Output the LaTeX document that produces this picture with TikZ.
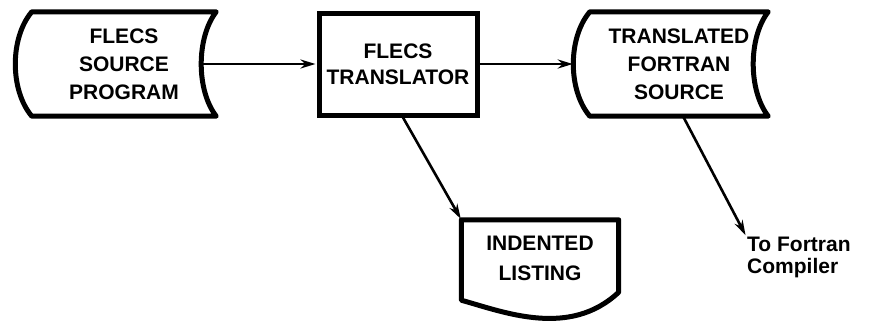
\documentclass[tikz,border=0pt]{standalone}
\usepackage{fontspec}
\setmainfont{Liberation Sans}
\usetikzlibrary{arrows.meta, positioning}
\tikzstyle{storage} = [minimum width=184pt, 
minimum height=104pt, 
inner sep=0pt, 
align=center, 
font=\fontsize{21}{28}\selectfont\bfseries]
\tikzstyle{process} = [rectangle, 
minimum width=158pt, 
minimum height=102pt, 
inner sep=0pt, 
align=center, 
draw=black, 
line width=5pt, 
font=\fontsize{21}{26}\selectfont\bfseries]
\tikzstyle{doc} = [minimum width=157pt, 
minimum height=76pt, 
inner sep=0pt, 
align=center, 
font=\fontsize{21}{30}\selectfont\bfseries]
\tikzstyle{note} = [anchor=north west, 
inner sep=1pt, 
align=left, 
font=\fontsize{21}{22}\selectfont\bfseries]
\tikzstyle{outline} = [line width=5pt, line join=round]
\tikzstyle{arrow} = [line width=2.6pt, ->, >={Stealth[length=15pt,width=9pt]}, shorten >=1pt]

\begin{document}
\begin{tikzpicture}[x=1pt, y=-1pt]
		\useasboundingbox (0,0) rectangle (875,322);
		\node (src) [storage] at (124,64) {FLECS\\ SOURCE\\ PROGRAM};
		\node (trans) [process, right of=src, node distance=274pt] {FLECS\\ TRANSLATOR};
		\node (tgt) [storage, right of=trans, node distance=281pt, minimum width=178pt] {TRANSLATED\\ FORTRAN\\ SOURCE};
		\node (lst) [doc, right of=trans, node distance=142pt, yshift=-194pt] {INDENTED\\ LISTING};
		\node (cmp) [note] at (746,236) {To Fortran\\ Compiler};
	
		% outlines of the stored data symbols
		\foreach \n in {src,tgt}
			\draw [outline] (\n.north east) -- (\n.north west)
				.. controls ([xshift=-22pt,yshift=-26pt]\n.north west) and ([xshift=-22pt,yshift=26pt]\n.south west) .. (\n.south west)
				-- (\n.south east)
				.. controls ([xshift=-20pt,yshift=26pt]\n.south east) and ([xshift=-20pt,yshift=-26pt]\n.north east) .. cycle;
		% document symbol
		\draw [outline] ([yshift=-4pt]lst.south west) -- (lst.north west) -- (lst.north east) -- ([yshift=4pt]lst.south east)
			.. controls ([xshift=-49pt,yshift=-42pt]lst.south east) and ([xshift=43pt,yshift=-16pt]lst.south west) .. cycle;
	
		\draw [arrow] ([xshift=-15pt]src.east) -- (trans.west);
		\draw [arrow] (trans.east) -- ([xshift=-16pt]tgt.west);
		\draw [arrow] ([xshift=5pt]trans.south) -- (lst.north west);
		\draw [arrow] ([xshift=4pt]tgt.south) -- (cmp.north west);
	\end{tikzpicture}
\end{document}
